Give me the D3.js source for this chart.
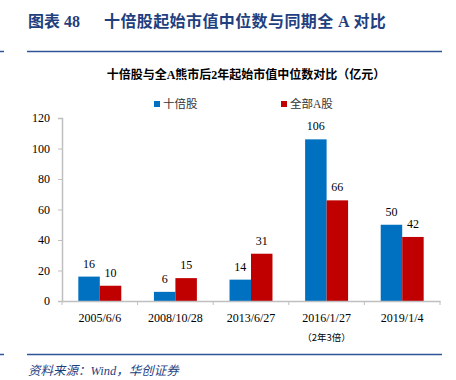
<!DOCTYPE html>
<html><head><meta charset="utf-8">
<script src="https://cdn.jsdelivr.net/npm/d3@7"></script>
<style>
body{margin:0;background:#fff;}
svg{display:block;}
</style></head>
<body>
<svg id="c" width="456" height="380"></svg>
<script>
const categories = ["2005/6/6","2008/10/28","2013/6/27","2016/1/27","2019/1/4"];
const seriesNames = ["十倍股","全部A股"];
const tenBagger = [16,6,14,106,50];
const allA = [10,15,31,66,42];
const yTicks = [0,20,40,60,80,100,120];
const colors = ["#0070C0","#C00000"];

(function(){
const svg = d3.select("#c");
const serif = "'Liberation Serif','Times New Roman','Noto Sans CJK SC',serif";
const cjk = "'Liberation Serif','Noto Sans CJK SC',serif";
const navy = "#1F3F7F";

// header
const ht = svg.append("text").attr("y",27).attr("fill",navy)
  .attr("font-family",cjk).attr("font-weight","bold").attr("font-size",16);
ht.append("tspan").attr("x",28).text("图表 48");
ht.append("tspan").attr("x",104).attr("letter-spacing",0.4).text("十倍股起始市值中位数与同期全 A 对比");
svg.append("line").attr("x1",27).attr("x2",442).attr("y1",51.5).attr("y2",51.5).attr("stroke","#2F5597").attr("stroke-width",1.5);
svg.append("line").attr("x1",0).attr("x2",4).attr("y1",51.5).attr("y2",51.5).attr("stroke","#2F5597").attr("stroke-width",1.5);
svg.append("line").attr("x1",27).attr("x2",442).attr("y1",354.5).attr("y2",354.5).attr("stroke","#2F5597").attr("stroke-width",1.5);
svg.append("line").attr("x1",0).attr("x2",4).attr("y1",354.5).attr("y2",354.5).attr("stroke","#2F5597").attr("stroke-width",1.5);
svg.append("text").attr("x",28).attr("y",375).attr("fill",navy)
  .attr("font-family",cjk).attr("font-style","italic").attr("font-size",12.5)
  .text("资料来源：Wind，华创证券");

// chart title
svg.append("text").attr("x",246).attr("y",79).attr("text-anchor","middle")
  .attr("font-family",cjk).attr("font-weight","bold").attr("font-size",12).attr("fill","#000")
  .text("十倍股与全A熊市后2年起始市值中位数对比（亿元）");

// legend
const legendX = [154,281];
seriesNames.forEach((n,i)=>{
  svg.append("rect").attr("x",legendX[i]).attr("y",101).attr("width",6).attr("height",6).attr("fill",colors[i]);
  svg.append("text").attr("x",legendX[i]+9).attr("y",108).attr("font-family",cjk).attr("font-size",11.5).attr("fill","#333").text(n);
});

const pL=62, pR=440, pT=118, pB=301;
const x0 = d3.scaleBand().domain(categories).range([pL,pR]).padding(0);
const x1 = d3.scaleBand().domain([0,1]).range([0,x0.bandwidth()]).paddingInner(0).paddingOuter(0.76);
const y = d3.scaleLinear().domain([0,120]).range([pB,pT]);

// y axis
const yAxis = svg.append("g").attr("transform",`translate(${pL},0)`)
  .call(d3.axisLeft(y).tickValues(yTicks).tickSize(4).tickPadding(8));
yAxis.select(".domain").attr("stroke","#BFBFBF").attr("stroke-width",1.5);
yAxis.selectAll(".tick line").attr("stroke","#BFBFBF");
yAxis.selectAll("text").attr("font-family",serif).attr("font-size",12).attr("fill","#000");

// bars
const data = categories.map((c,i)=>({c, v:[tenBagger[i],allA[i]]}));
const g = svg.append("g");
data.forEach(d=>{
  d.v.forEach((v,j)=>{
    g.append("rect").attr("x",x0(d.c)+x1(j)).attr("y",y(v)).attr("width",x1.bandwidth()).attr("height",pB-y(v)).attr("fill",colors[j]);
    g.append("text").attr("x",x0(d.c)+x1(j)+x1.bandwidth()/2).attr("y",y(v)-9).attr("text-anchor","middle")
      .attr("font-family",serif).attr("font-size",12).attr("fill","#000").text(v);
  });
});

// x axis
const xAxis = svg.append("g").attr("transform",`translate(0,${pB})`)
  .call(d3.axisBottom(x0).tickSize(0).tickPadding(12));
xAxis.select(".domain").attr("stroke","#BFBFBF").attr("stroke-width",1.5);
xAxis.selectAll("text").attr("font-family",serif).attr("font-size",12).attr("fill","#000");
const edges = categories.map(c=>x0(c)).concat([pR]);
xAxis.selectAll(".edge").data(edges).enter().append("line").attr("class","edge")
  .attr("x1",d=>d).attr("x2",d=>d).attr("y1",0).attr("y2",4).attr("stroke","#BFBFBF");

svg.append("text").attr("x",x0("2016/1/27")+x0.bandwidth()/2).attr("y",341).attr("text-anchor","middle")
  .attr("font-family","'Noto Sans CJK SC',sans-serif").attr("font-size",9.5).attr("fill","#000").text("（2年3倍）");
})();
</script>
</body></html>
